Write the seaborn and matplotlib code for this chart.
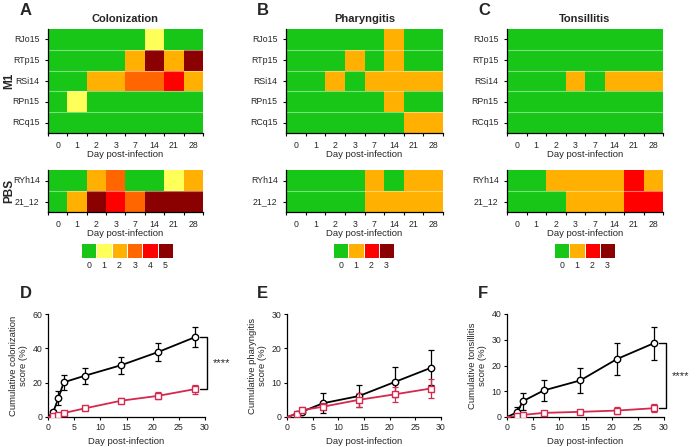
import numpy as np
import pandas as pd
import matplotlib
matplotlib.use("Agg")
import matplotlib.pyplot as plt
import seaborn as sns
from matplotlib.colors import ListedColormap

sns.set_style("white")
plt.rcParams["font.family"] = ["Liberation Sans", "DejaVu Sans"]

# ---------------- data ----------------
day_labels = ["0", "1", "2", "3", "7", "14", "21", "28"]
m1_animals = ["RJo15", "RTp15", "RSi14", "RPn15", "RCq15"]
pbs_animals = ["RYh14", "21_12"]

colon_m1 = [[0, 0, 0, 0, 0, 1, 0, 0],
            [0, 0, 0, 0, 2, 5, 2, 5],
            [0, 0, 2, 2, 3, 3, 4, 2],
            [0, 1, 0, 0, 0, 0, 0, 0],
            [0, 0, 0, 0, 0, 0, 0, 0]]
colon_pbs = [[0, 0, 2, 3, 0, 0, 1, 2],
             [0, 2, 5, 4, 3, 5, 5, 5]]

phar_m1 = [[0, 0, 0, 0, 0, 1, 0, 0],
           [0, 0, 0, 1, 0, 1, 0, 0],
           [0, 0, 1, 0, 1, 1, 1, 1],
           [0, 0, 0, 0, 0, 1, 0, 0],
           [0, 0, 0, 0, 0, 0, 1, 1]]
phar_pbs = [[0, 0, 0, 0, 1, 0, 1, 1],
            [0, 0, 0, 0, 1, 1, 1, 1]]

tons_m1 = [[0, 0, 0, 0, 0, 0, 0, 0],
           [0, 0, 0, 0, 0, 0, 0, 0],
           [0, 0, 0, 1, 0, 1, 1, 1],
           [0, 0, 0, 0, 0, 0, 0, 0],
           [0, 0, 0, 0, 0, 0, 0, 0]]
tons_pbs = [[0, 0, 1, 1, 1, 1, 2, 1],
            [0, 0, 0, 1, 1, 1, 2, 2]]

colon_levels = [0, 1, 2, 3, 4, 5]
sev_levels = [0, 1, 2, 3]

# cumulative scores
d_days = [0, 1, 2, 3, 7, 14, 21, 28]
d_pbs = [0, 2.9, 11.1, 20.2, 24.0, 30.2, 37.8, 46.4]
d_pbs_err = [0, 1.2, 3.9, 4.3, 4.6, 5.0, 5.4, 5.8]
d_m1 = [0, 0.6, 1.4, 2.3, 5.0, 9.5, 12.3, 16.2]
d_m1_err = [0, 0.3, 0.4, 0.5, 0.8, 1.5, 2.0, 2.6]

e_days = [0, 2, 3, 7, 14, 21, 28]
e_pbs = [0, 1.0, 1.6, 4.0, 6.1, 10.2, 14.3]
e_pbs_err = [0, 0.6, 0.8, 2.9, 3.3, 4.3, 5.1]
e_m1 = [0, 1.0, 2.0, 3.0, 5.0, 6.6, 8.3]
e_m1_err = [0, 0.5, 0.8, 1.0, 2.0, 2.2, 2.7]

f_days = [0, 2, 3, 7, 14, 21, 28]
f_pbs = [0, 1.9, 6.1, 10.3, 14.2, 22.5, 28.6]
f_pbs_err = [0, 2.0, 3.4, 4.2, 5.0, 6.2, 6.5]
f_m1 = [0, 0.3, 0.8, 1.6, 2.0, 2.5, 3.4]
f_m1_err = [0, 0.2, 0.4, 0.8, 0.8, 1.2, 1.5]

# ---------------- style ----------------
GREEN = "#17c617"
six_cmap = ListedColormap([GREEN, "#ffff5a", "#ffb000", "#ff6600", "#ff0000", "#8b0000"])
four_cmap = ListedColormap([GREEN, "#ffb000", "#ff0000", "#8b0000"])
RED = "#d6274d"
FS = 6.3
LFS = 6.8

W, H = 696, 447
fig = plt.figure(figsize=(W / 100, H / 100), dpi=100)


def rect(x0, y0, x1, y1):
    return [x0 / W, 1 - y1 / H, (x1 - x0) / W, (y1 - y0) / H]


def draw_heat(ax, data, rows, cmap, levels):
    df = pd.DataFrame(data, index=rows, columns=day_labels)
    sns.heatmap(df, ax=ax, cmap=cmap, vmin=levels[0] - 0.5, vmax=levels[-1] + 0.5,
                cbar=False, linewidths=0)
    for y in range(1, len(rows)):
        ax.axhline(y, color="white", alpha=0.45, lw=0.8)
    ax.set_xticks(np.arange(len(day_labels)) + 0.5)
    ax.set_xticklabels(day_labels, rotation=0)
    ax.set_xticks(np.arange(len(day_labels) + 1), minor=True)
    ax.tick_params(axis="x", which="major", length=0, pad=5.5, labelsize=FS, bottom=True)
    ax.tick_params(axis="x", which="minor", length=2.5, width=0.8, direction="out",
                   bottom=True, color="black")
    ax.set_yticks(np.arange(len(rows)) + 0.5)
    ax.set_yticklabels(rows, rotation=0)
    ax.tick_params(axis="y", length=2.5, width=0.8, labelsize=FS, left=True, color="black")
    for s in ["left", "bottom"]:
        ax.spines[s].set_visible(True)
        ax.spines[s].set_color("black")
        ax.spines[s].set_linewidth(0.9)
    for s in ["top", "right"]:
        ax.spines[s].set_visible(False)
    ax.set_xlabel("Day post-infection", fontsize=LFS, labelpad=0.5)
    ax.set_ylabel("")


def draw_cbar(ax, levels, cmap):
    df = pd.DataFrame([levels], columns=[str(v) for v in levels])
    sns.heatmap(df, ax=ax, cmap=cmap, vmin=levels[0] - 0.5, vmax=levels[-1] + 0.5,
                cbar=False, linewidths=0.5, linecolor="white",
                xticklabels=True, yticklabels=False)
    ax.tick_params(axis="x", length=0, pad=2, labelsize=FS, rotation=0)
    ax.set_xlabel("")
    ax.set_ylabel("")


def draw_line(ax, days, pbs, pbs_err, m1, m1_err, ymax, ystep, ylabel, sig=False):
    for vals, err, col, mk, z in [(pbs, pbs_err, "black", "o", 3), (m1, m1_err, RED, "s", 4)]:
        df = pd.DataFrame({"day": days, "score": vals})
        ax.errorbar(days, vals, yerr=err, fmt="none", ecolor=col, elinewidth=0.9,
                    capsize=2.4, capthick=0.9, zorder=z - 0.5)
        sns.lineplot(data=df, x="day", y="score", ax=ax, color=col, lw=1.3,
                     marker=mk, markersize=4.6 if mk == "o" else 4.0,
                     markerfacecolor="white", markeredgecolor=col,
                     markeredgewidth=1.0, markevery=slice(1, None),
                     errorbar=None, zorder=z)
    ax.set_xlim(0, 30)
    ax.set_ylim(0, ymax)
    ax.set_xticks(np.arange(0, 31, 5))
    ax.set_yticks(np.arange(0, ymax + 0.1, ystep))
    sns.despine(ax=ax)
    for s in ["left", "bottom"]:
        ax.spines[s].set_color("black")
        ax.spines[s].set_linewidth(0.9)
    ax.tick_params(axis="both", length=2.5, width=0.8, labelsize=FS, direction="out",
                   left=True, bottom=True, color="black", pad=1.5)
    ax.set_xlabel("Day post-infection", fontsize=LFS, labelpad=4)
    ax.set_ylabel(ylabel, fontsize=LFS, labelpad=3, linespacing=1.2)
    if sig:
        top, bot = pbs[-1], m1[-1]
        ax.plot([29.0, 30.4, 30.4, 29.0], [top, top, bot, bot], color="black",
                lw=1.0, clip_on=False)
        ax.text(33.2, (top + bot) / 2, "****", fontsize=8, ha="center", va="center")


# heatmap panels: (x0, x1, cbar x0, cbar x1)
panels = [
    (48, 203, 81, 173, "Colonization", colon_m1, colon_pbs, six_cmap, colon_levels),
    (286, 443, 333, 394, "Pharyngitis", phar_m1, phar_pbs, four_cmap, sev_levels),
    (507, 663, 554, 615, "Tonsillitis", tons_m1, tons_pbs, four_cmap, sev_levels),
]
for x0, x1, c0, c1, title, m1d, pbsd, cmap, levels in panels:
    ax1 = fig.add_axes(rect(x0, 29, x1, 133))
    draw_heat(ax1, m1d, m1_animals, cmap, levels)
    ax2 = fig.add_axes(rect(x0, 170, x1, 212))
    draw_heat(ax2, pbsd, pbs_animals, cmap, levels)
    axc = fig.add_axes(rect(c0, 243, c1, 258))
    draw_cbar(axc, levels, cmap)
    fig.text((x0 + x1) / 2 / W, 1 - 19 / H, title, fontsize=8, fontweight="bold",
             ha="center", va="center")

fig.text(9 / W, 1 - 81 / H, "M1", fontsize=8.5, fontweight="bold", rotation=90,
         ha="center", va="center")
fig.text(9 / W, 1 - 191 / H, "PBS", fontsize=8.5, fontweight="bold", rotation=90,
         ha="center", va="center")

axD = fig.add_axes(rect(48, 314, 205, 417))
draw_line(axD, d_days, d_pbs, d_pbs_err, d_m1, d_m1_err, 60, 20,
          "Cumulative colonization\nscore (%)", sig=True)
axE = fig.add_axes(rect(287, 314, 441, 417))
draw_line(axE, e_days, e_pbs, e_pbs_err, e_m1, e_m1_err, 30, 10,
          "Cumulative pharyngitis\nscore (%)")
axF = fig.add_axes(rect(507, 314, 664, 417))
draw_line(axF, f_days, f_pbs, f_pbs_err, f_m1, f_m1_err, 40, 10,
          "Cumulative tonsillitis\nscore (%)", sig=True)

for letter, x, y in [("A", 20, 3), ("B", 257, 3), ("C", 478, 3),
                     ("D", 20, 286), ("E", 257, 286), ("F", 478, 286)]:
    fig.text(x / W, 1 - y / H, letter, fontsize=12, fontweight="bold",
             ha="left", va="top")

fig.savefig("out.png", dpi=100, facecolor="white")
